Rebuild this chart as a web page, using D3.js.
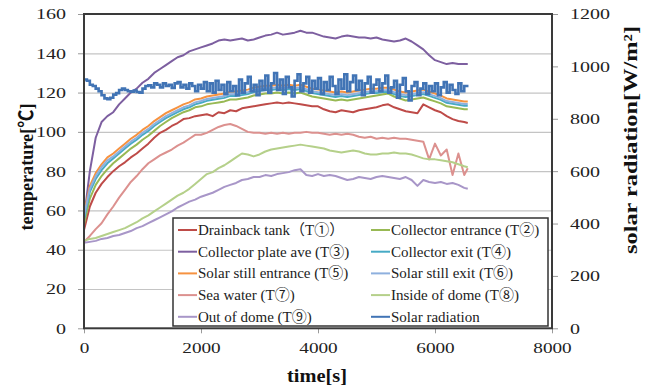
<!DOCTYPE html>
<html><head><meta charset="utf-8">
<script src="https://cdn.jsdelivr.net/npm/d3@7"></script>
<style>body{margin:0;background:#fff;} svg{display:block;}</style>
</head><body><svg id="c" width="651" height="391"></svg>
<script>
// ---------- data ----------
const times = [0,100,200,300,400,500,600,700,800,900,1000,1100,1200,1300,1400,1500,1600,1700,1800,1900,
  2000,2100,2200,2300,2400,2500,2600,2700,2800,2900,3000,3100,3200,3300,3400,3500,3600,3700,3800,3900,
  4000,4100,4200,4300,4400,4500,4600,4700,4800,4900,5000,5100,5200,5300,5400,5500,5600,5700,5800,5900,
  6000,6100,6200,6300,6400,6500,6560];
const drainbackTank = [50,62,69,73.5,77,80,82.5,84.5,87,89, 91.5,94,97,99.5,101,103,104.5,106.5,107,108,
  108.5,109,108,110,109.5,111,110.5,112,112.5,113, 113.5,114,114.5,115,114.5,115,114.5,114,113.5,113,
  113,111.5,110.5,110,111,110.5,110,111,111.5,112, 112.5,113.5,114,112.5,111.5,110.5,110,109.5,114,112.5,
  111,110,108,106.5,105.5,105,104.5];
const collectorEntrance = [53,66,73,77.5,81,84,86.5,89,91.5,93.5, 96,98,100.5,103,105,107,108.5,110,111,112.5,
  113,114,114.5,115,115.5,116.5,116.5,117,117.5,118.5, 119,119.5,119.5,120,119.5,120,119.5,120,119,118,
  117.5,117,116.5,116,116.5,116,116.5,117,117.5,118, 118.5,119,119.5,118,117,116,116.5,117,117.5,116.5,
  115.5,114.5,113,112.5,112,111.5,111.5];
const collectorPlate = [56,80,97,105,108,110,114,117,120,122, 125,127,130,132,134,136,138,139,141,142,
  143,144,145,146.5,147,146.5,147,147.5,146.5,147, 148,149,149.5,150.5,149.5,150,150.5,151.5,150.5,150.5,
  149.5,148.5,148,147.5,148.5,149,148.5,148,148,147.5, 148,147,146.5,146,146.5,147.5,146,144,142,139,
  136.5,135.5,134.5,135,134.5,134.5,134.5];
const collectorExit = [55.5,69.5,76,80.5,84,86.5,89,91.5,94,96, 98.5,100.5,103,105,107,108.5,110,111.5,112.5,114,
  114.8,115.8,116.3,116.8,117.3,118.3,118.3,118.8,119.3,120.3, 120.8,121.3,121.3,121.8,121.3,121.8,121.3,121.8,120.8,119.8,
  119.3,118.8,118.3,117.8,118.3,117.8,118.3,118.8,119.3,119.8, 119.8,120.3,120.3,119.3,118.3,117.8,118.3,118.8,119.3,118.3,
  117.3,116.3,114.8,114.3,113.8,113.3,113.3];
const stillEntrance = [58.5,72.5,79,83.5,87,89,91.5,94,96.5,98.5, 101,103,105.5,107.5,109.5,111,112.5,114,115,116.5,
  117,118,118.5,119,119.5,120.5,120.5,121,121.5,122.5, 123,123.5,123.5,124,123.5,124,123.5,124,123,122,
  121.5,121,120.5,120,120.5,120,120.5,121,121.5,122, 122,122.5,122.5,121.5,120.5,120,120.5,121,121.5,120.5,
  119.5,118.5,117,116.5,116,115.5,115.5];
const stillExit = [57,71,77.5,82,85.5,87.5,90,92.5,95,97, 99.5,101.5,104,106,108,109.5,111,112.5,113.5,115,
  115.7,116.7,117.2,117.7,118.2,119.2,119.2,119.7,120.2,121.2, 121.7,122.2,122.2,122.7,122.2,122.7,122.2,122.7,121.7,120.7,
  120.2,119.7,119.2,118.7,119.2,118.7,119.2,119.7,120.2,120.7, 120.7,121.2,121.2,120.2,119.2,118.7,119.2,119.7,120.2,119.2,
  118.2,117.2,115.7,115.2,114.7,114.2,114.2];
const seaWater = [44,47,50.5,53.5,58,62,66.5,70.5,74.5,77.5, 81,84,86,88,89.5,91,93,94.5,96.5,98.5,
  98.5,99.5,101,102.5,103.5,104,103,101.5,100,99.5, 99.5,99,99.5,99,99.5,99,99.5,99.5,100,99.5,
  99.5,99,98.5,99,98.5,99,98.5,97.5,97,97.5, 96.5,97,96.5,97,96.5,96.5,96,95.5,95,86,
  94,88,91,78,89,78,81.5];
const insideDome = [44.5,45.5,46,47,48,49,50,51,52.5,54, 56,57.5,59.5,61.5,63.5,65.5,67.5,69,71,73.5,
  76,78.5,79.5,81.5,83,85,87,89,88.5,87.5, 88.5,90,91,91.5,92,92.5,93,93.5,93,92.5,
  92,91.5,90.5,90,89.5,90,90.5,90,89,88.5, 88.5,89,89,89.5,89,89,88.5,87.5,86.5,86,
  86,85.5,85,84.5,83.5,82.5,82];
const outDome = [43.5,44,44.5,45.5,46,47,47.5,48.5,49.5,51, 52,53.5,55,56.5,58,59.5,61.5,63,64.5,65.5,
  67,68,69,70.5,72,73,74,75.5,76,77, 77,78,77.5,78.5,79,79.5,80.5,81,78,77.5,
  78.5,77.5,78,77.5,76.5,75.5,76,77,76.5,76, 77,77.5,77,76.5,76,77,75.5,72.5,75.5,74.5,
  74,74.5,73.5,74,73,71.5,71];
const solarTimes = [0,50,100,150,200,250,300,350,400,450,500,550,600,650,700,750,800,850,900,950,
  1000,1050,1100,1150,1200,1250,1300,1350,1400,1450,1500,1550,1600,1650,1700,1750,1800,1850,1900,1950,
  2000,2050,2100,2150,2200,2250,2300,2350,2400,2450,2500,2550,2600,2650,2700,2750,2800,2850,2900,2950,
  3000,3050,3100,3150,3200,3250,3300,3350,3400,3450,3500,3550,3600,3650,3700,3750,3800,3850,3900,3950,
  4000,4050,4100,4150,4200,4250,4300,4350,4400,4450,4500,4550,4600,4650,4700,4750,4800,4850,4900,4950,
  5000,5050,5100,5150,5200,5250,5300,5350,5400,5450,5500,5550,5600,5650,5700,5750,5800,5850,5900,5950,
  6000,6050,6100,6150,6200,6250,6300,6350,6400,6450,6500,6550];
const solarRadiation = [950,945,930,925,915,905,890,878,875,880,892,898,910,915,910,905,903,908,902,900,
  915,925,928,920,935,930,920,935,925,930,918,935,940,920,930,915,935,925,905,930,
  915,940,905,935,900,945,910,930,895,940,905,925,890,950,900,935,960,905,930,890,
  945,910,965,900,935,975,910,950,895,960,920,885,945,970,905,935,960,900,945,915,
  955,895,940,910,960,925,895,950,915,970,905,940,965,910,945,890,935,960,900,930,
  950,905,935,965,900,920,945,880,930,955,905,870,925,940,890,915,935,895,925,905,
  935,890,920,940,900,930,910,895,935,905,925,920];
const tempTicks = [0,20,40,60,80,100,120,140,160];
const solarTicks = [0,200,400,600,800,1000,1200];
const timeTicks = [0,2000,4000,6000,8000];

const series = [
  {name:"Drainback tank（T①）", values:drainbackTank, color:"#BE4B48", w:2},
  {name:"Collector entrance (T②)", values:collectorEntrance, color:"#98B954", w:2},
  {name:"Collector plate ave (T③)", values:collectorPlate, color:"#7D5FA0", w:2},
  {name:"Collector exit (T④)", values:collectorExit, color:"#46AAC5", w:2},
  {name:"Solar still entrance (T⑤)", values:stillEntrance, color:"#F69240", w:2},
  {name:"Solar still exit (T⑥)", values:stillExit, color:"#8EB0DE", w:2},
  {name:"Sea water (T⑦)", values:seaWater, color:"#DC918F", w:2},
  {name:"Inside of dome (T⑧)", values:insideDome, color:"#B5D08A", w:2},
  {name:"Out of dome (T⑨)", values:outDome, color:"#A896C8", w:2}
];

// ---------- layout ----------
const L=84, R=552, T=14, B=328.3;
const font = "'Liberation Serif','Times New Roman','Noto Sans CJK JP',serif";
const fmt = d3.format('d');
const x = d3.scaleLinear().domain([0,8000]).range([L,R]);
const y = d3.scaleLinear().domain([0,160]).range([B,T]);
const y2 = d3.scaleLinear().domain([0,1200]).range([B,T]);
const svg = d3.select('#c');
svg.append('rect').attr('width',651).attr('height',391).attr('fill','#fff');

// gridlines
svg.append('g').attr('transform',`translate(${L},0)`)
  .call(d3.axisLeft(y).tickValues(tempTicks.filter(v=>v>0&&v<160)).tickSize(-(R-L)).tickFormat(''))
  .call(g=>g.select('.domain').remove())
  .selectAll('line').attr('stroke','#c4c4c4').attr('stroke-width',1.2);

function styleTicks(g, per){
  g.select('.domain').remove();
  g.selectAll('line').attr('stroke','#9a9a9a');
  g.selectAll('text').attr('font-family',font).attr('font-size',15).attr('fill','#222')
    .attr('textLength',d=>fmt(d).length*per).attr('lengthAdjust','spacingAndGlyphs');
}
// left axis
const gl = svg.append('g').attr('transform',`translate(${L},0)`)
  .call(d3.axisLeft(y).tickValues(tempTicks).tickFormat(fmt).tickSize(6).tickPadding(12));
styleTicks(gl,10); gl.selectAll('text').attr('dy','0.33em');

// right axis
const gr = svg.append('g').attr('transform',`translate(${R},0)`)
  .call(d3.axisRight(y2).tickValues(solarTicks).tickFormat(fmt).tickSize(6).tickPadding(12));
styleTicks(gr,10); gr.selectAll('text').attr('dy','0.33em');

// bottom axis
const gb = svg.append('g').attr('transform',`translate(0,${B})`)
  .call(d3.axisBottom(x).tickValues(timeTicks).tickFormat(fmt).tickSize(5).tickPadding(9));
styleTicks(gb,9.6); gb.selectAll('text').attr('dy','0.71em');

// lines
const plot = svg.append('g');
series.forEach(s=>{
  const line = d3.line().x((d,i)=>x(times[i])).y(d=>y(d));
  plot.append('path').datum(s.values).attr('d',line).attr('fill','none')
    .attr('stroke',s.color).attr('stroke-width',s.w).attr('stroke-linejoin','round');
});
const sline = d3.line().x((d,i)=>x(solarTimes[i])).y(d=>y2(d)).curve(d3.curveStepAfter);
plot.append('path').datum(solarRadiation).attr('d',sline).attr('fill','none')
  .attr('stroke','#4174B5').attr('stroke-width',2.6);

// frame
svg.append('rect').attr('x',L).attr('y',T).attr('width',R-L).attr('height',B-T)
  .attr('fill','none').attr('stroke','#3a3a3a').attr('stroke-width',2);

// titles
svg.append('text').attr('transform','translate(33,167) rotate(-90)').attr('text-anchor','middle')
  .attr('font-family',font).attr('font-weight','bold').attr('font-size',19).attr('fill','#111')
  .attr('textLength',127).attr('lengthAdjust','spacingAndGlyphs').text('temperature[℃]');
svg.append('text').attr('transform','translate(637,140) rotate(-90)').attr('text-anchor','middle')
  .attr('font-family',font).attr('font-weight','bold').attr('font-size',19).attr('fill','#111')
  .attr('textLength',228).attr('lengthAdjust','spacingAndGlyphs').text('solar radiation[W/m²]');
svg.append('text').attr('x',317).attr('y',382).attr('text-anchor','middle')
  .attr('font-family',font).attr('font-weight','bold').attr('font-size',19).attr('fill','#111')
  .attr('textLength',60).attr('lengthAdjust','spacingAndGlyphs').text('time[s]');

// legend
const leg = svg.append('g');
leg.append('rect').attr('x',173).attr('y',218).attr('width',375).attr('height',108)
  .attr('fill','#fff').attr('stroke','#333').attr('stroke-width',1.5);
const legItems = series.map(s=>({name:s.name,color:s.color}));
legItems.push({name:'Solar radiation',color:'#4174B5'});
legItems.forEach((d,i)=>{
  const col=i%2, row=Math.floor(i/2);
  const lx = col===0?178:371, ty = 235+row*21.7;
  leg.append('line').attr('x1',lx).attr('x2',lx+19).attr('y1',ty-5).attr('y2',ty-5)
    .attr('stroke',d.color).attr('stroke-width',2);
  leg.append('text').attr('x',lx+20).attr('y',ty).attr('font-family',font).attr('font-size',15)
    .attr('fill','#222').text(d.name);
});
</script></body></html>
